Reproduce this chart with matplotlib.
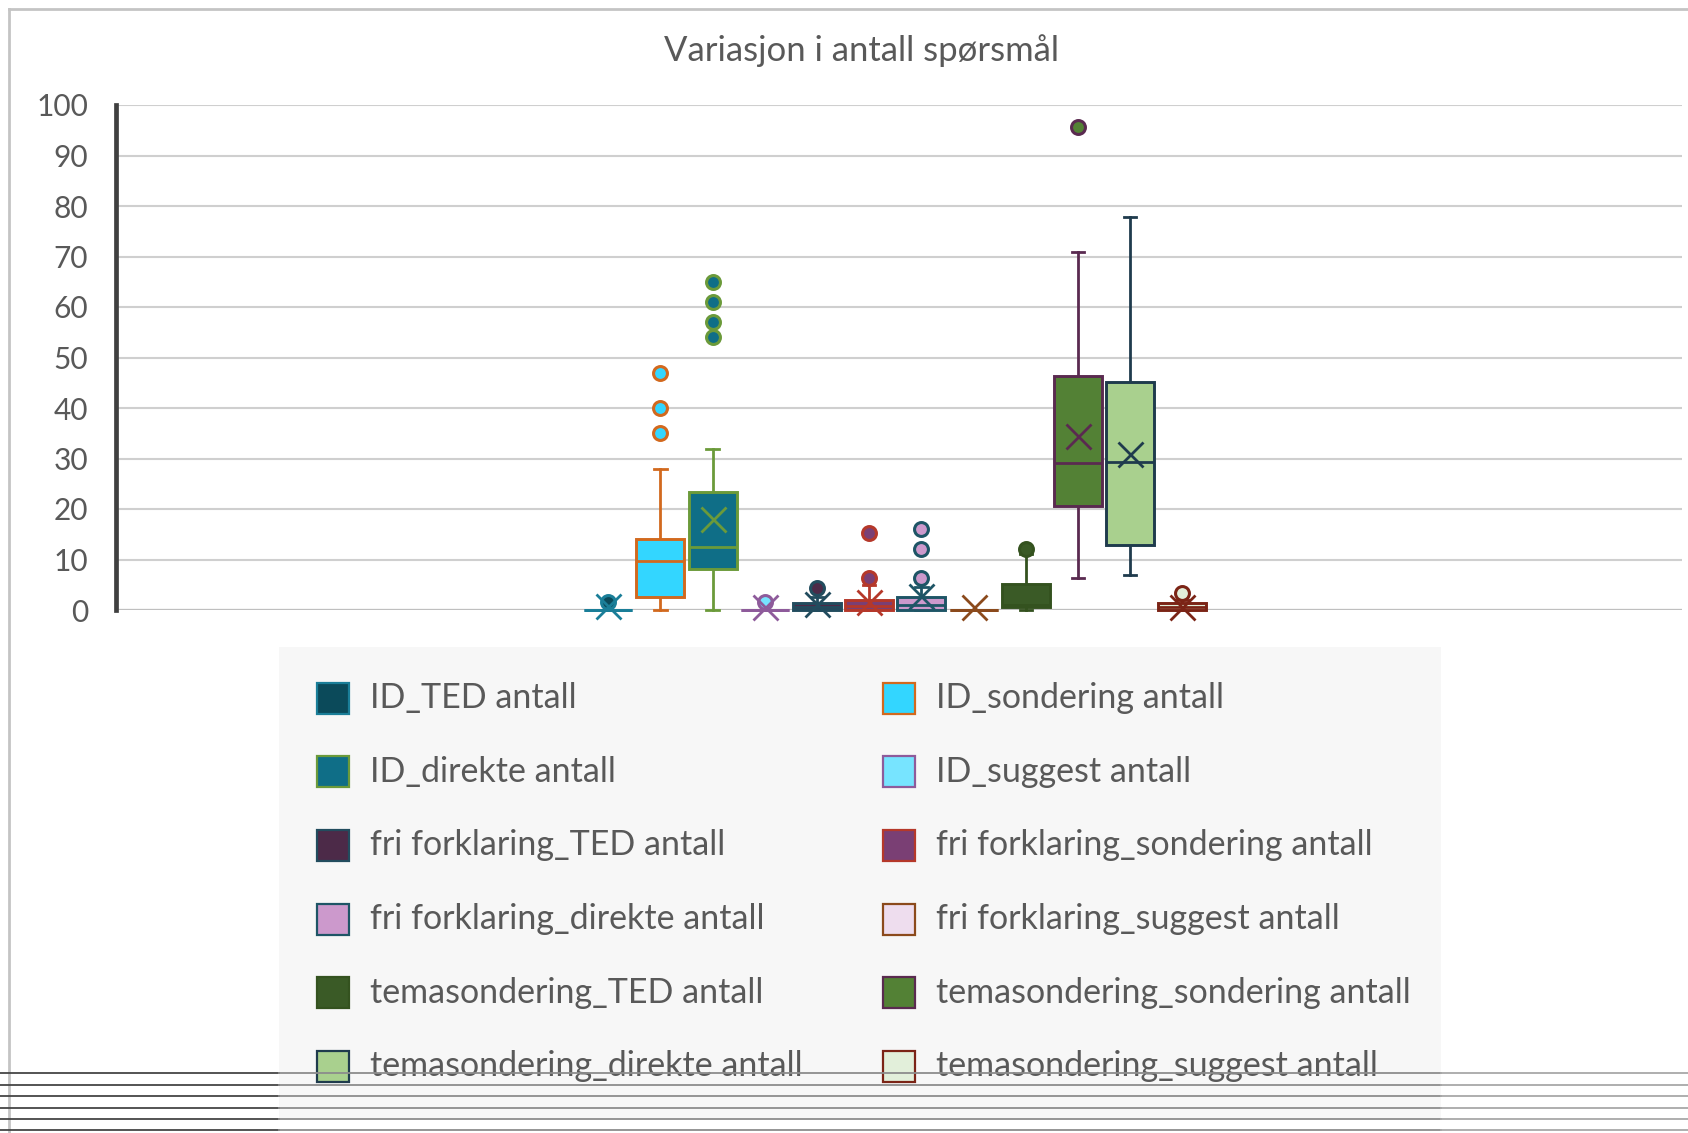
import matplotlib
matplotlib.use("Agg")
import matplotlib.pyplot as plt
from matplotlib.patches import Rectangle
from matplotlib.lines import Line2D
import numpy as np

FONT = "Lato"
plt.rcParams["font.family"] = [FONT, "DejaVu Sans"]

# ---------------- data ----------------
title = "Variasjon i antall spørsmål"
series = [
    "ID_TED antall", "ID_sondering antall", "ID_direkte antall", "ID_suggest antall",
    "fri forklaring_TED antall", "fri forklaring_sondering antall",
    "fri forklaring_direkte antall", "fri forklaring_suggest antall",
    "temasondering_TED antall", "temasondering_sondering antall",
    "temasondering_direkte antall", "temasondering_suggest antall",
]
q1 = [0, 2.6, 8.2, 0, 0, 0, 0, 0, 0.6, 20.6, 12.9, 0]
median = [0, 9.7, 12.5, 0, 0.6, 0.7, 1.0, 0, 1.0, 29.2, 29.3, 0.6]
q3 = [0, 14.0, 23.3, 0, 1.3, 2.0, 2.5, 0, 5.1, 46.3, 45.2, 1.3]
whisker_low = [0, 0, 0, 0, 0, 0, 0, 0, 0, 6.3, 7.0, 0]
whisker_high = [0, 28.0, 31.8, 0, 2.5, 5.0, 4.5, 0, 11.0, 70.8, 77.8, 2.0]
means = [0.8, np.nan, 18.1, 0.6, 1.1, 1.6, 2.8, 0.6, np.nan, 34.4, 30.9, 0.6]
outliers = [[1.6], [35, 40, 47], [54, 57, 61, 65], [1.6], [4.3], [6.3, 15.2],
            [6.3, 12, 16], [], [12], [95.7], [], [3.3]]
y_ticks = [0, 10, 20, 30, 40, 50, 60, 70, 80, 90, 100]

fills = ["#0B4A5A", "#33D6FF", "#0F6E87", "#77E4FF", "#4C2A48", "#7A3F74",
         "#CC99CC", "#EEDDEE", "#3A5A26", "#538135", "#A9D08E", "#E2EFDA"]
edges = ["#1A7E98", "#D2691E", "#6B9A3A", "#8E5B9B", "#224C5E", "#B5382A",
         "#1E5566", "#8B4A1C", "#34521F", "#5A2A50", "#1F3B4D", "#7B2416"]

# ---------------- figure ----------------
W, H = 1688, 1133
fig = plt.figure(figsize=(W / 100, H / 100), dpi=100)
fig.patch.set_facecolor("white")

def fx(x):
    return x / W

def fy(y):
    return 1 - y / H

renderer = fig.canvas.get_renderer()

def fit_size(text, target_px):
    t = fig.text(0, 0, text, fontsize=20)
    w = t.get_window_extent(renderer).width
    t.remove()
    return 20 * target_px / w

TXT = "#595959"

# axes
ax_l, ax_r, ax_b, ax_t = 116, 1682, 610, 105
ax = fig.add_axes([fx(ax_l), fy(ax_b), fx(ax_r) - fx(ax_l), fy(ax_t) - fy(ax_b)])
ax.set_facecolor("white")
spacing = 52.2
first = 608.2
ax.set_xlim(-(first - ax_l) / spacing, (ax_r - first) / spacing)
ax.set_ylim(0, 100)
ax.set_yticks(y_ticks)
ax.set_xticks([])
for s in ["top", "right", "bottom"]:
    ax.spines[s].set_visible(False)
ax.spines["left"].set_color("#404040")
ax.spines["left"].set_linewidth(3.4)
ax.spines["left"].set_zorder(6)
ax.yaxis.grid(True, color="#CFCFCF", linewidth=1.5)
ax.set_axisbelow(True)
tick_fs = fit_size("100", 52)
ax.tick_params(axis="y", length=0, pad=20, labelsize=tick_fs, labelcolor=TXT)
ax.axhline(0, color="#BFBFBF", linewidth=1.6, zorder=1)

stats = []
for i, name in enumerate(series):
    stats.append(dict(label=name, q1=q1[i], med=median[i], q3=q3[i],
                      whislo=whisker_low[i], whishi=whisker_high[i],
                      fliers=np.array(outliers[i], dtype=float)))
positions = list(range(len(series)))
bp = ax.bxp(stats, positions=positions, widths=0.92, patch_artist=True,
            showfliers=True, capwidths=0.24, manage_ticks=False)

for i in range(len(series)):
    b = bp["boxes"][i]
    b.set_facecolor(fills[i]); b.set_edgecolor(edges[i]); b.set_linewidth(2.1)
    b.set_clip_on(False); b.set_zorder(3)
    m = bp["medians"][i]
    m.set_color(edges[i]); m.set_linewidth(2.0); m.set_clip_on(False); m.set_zorder(4)
    for k in (2 * i, 2 * i + 1):
        for part in ("whiskers", "caps"):
            ln = bp[part][k]
            ln.set_color(edges[i]); ln.set_linewidth(2.0); ln.set_clip_on(False); ln.set_zorder(2.5)
    f = bp["fliers"][i]
    f.set_marker("o"); f.set_markersize(10); f.set_markerfacecolor(fills[i])
    f.set_markeredgecolor(edges[i]); f.set_markeredgewidth(2.2); f.set_clip_on(False)
    f.set_zorder(5)
    if not np.isnan(means[i]):
        ax.plot([positions[i]], [means[i]], marker="x", markersize=18,
                markeredgewidth=2.0, color=edges[i], linestyle="none",
                zorder=5, clip_on=False)

# title
title_fs = fit_size(title, 394)
fig.text(fx(861), fy(61), title, ha="center", va="baseline", fontsize=title_fs, color=TXT)

# legend (manual layout)
fig.patches.append(Rectangle((fx(279), fy(1118)), fx(1441) - fx(279), fy(647) - fy(1118),
                             transform=fig.transFigure, facecolor="#F7F7F7",
                             edgecolor="none", zorder=1))
leg_fs = fit_size("temasondering_sondering antall", 476)
row_centers = [698, 771.7, 845.4, 919.1, 992.8, 1066.5]
col_marker_x = [317, 883]
col_text_x = [370, 936.5]
for i, name in enumerate(series):
    r, c = i // 2, i % 2
    yc = row_centers[r]
    fig.patches.append(Rectangle((fx(col_marker_x[c]), fy(yc + 15.5)), 32 / W, 31 / H,
                                 transform=fig.transFigure, facecolor=fills[i],
                                 edgecolor=edges[i], linewidth=1.6, zorder=2))
    fig.text(fx(col_text_x[c]), fy(yc + 10), name, ha="left", va="baseline",
             fontsize=leg_fs, color=TXT, zorder=3)

# frame borders
fig.add_artist(Line2D([fx(9), fx(W)], [fy(8.5), fy(8.5)], transform=fig.transFigure,
                      color="#C4C4C4", linewidth=2.0, zorder=10))
fig.add_artist(Line2D([fx(9), fx(9)], [fy(8.5), fy(H)], transform=fig.transFigure,
                      color="#C4C4C4", linewidth=2.0, zorder=10))

# bottom page lines
for yy in [1073, 1084.5, 1096, 1107.5, 1119, 1130]:
    for x0, x1, col in [(0, 279, "#454545"), (279, 1441, "#8C8C8C"), (1441, W, "#A8A8A8")]:
        fig.add_artist(Line2D([fx(x0), fx(x1)], [fy(yy), fy(yy)], transform=fig.transFigure,
                              color=col, linewidth=1.3, zorder=11))

fig.savefig("out.png", dpi=100, facecolor="white")
